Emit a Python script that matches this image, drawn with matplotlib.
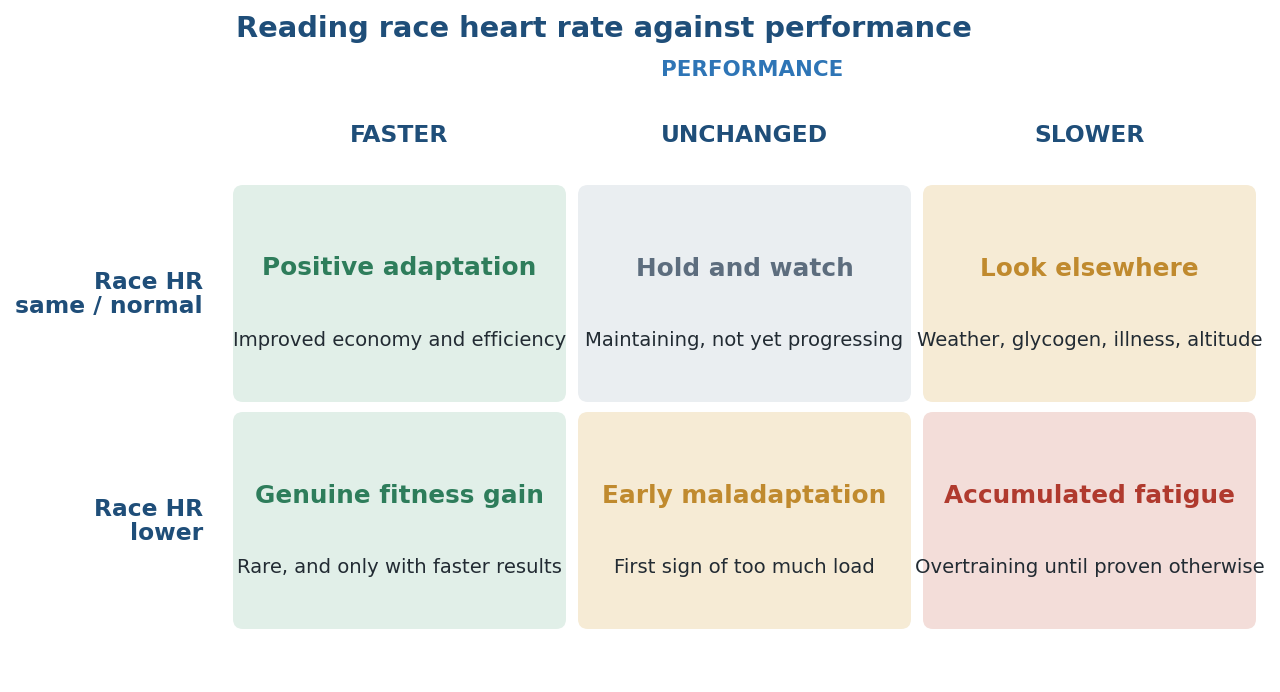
import matplotlib
matplotlib.use("Agg")
import matplotlib.pyplot as plt
from matplotlib.patches import FancyBboxPatch

plt.rcParams['font.family'] = ['DejaVu Sans']

title = "Reading race heart rate against performance"
axis_label = "PERFORMANCE"
columns = ["FASTER", "UNCHANGED", "SLOWER"]
rows = ["Race HR\nsame / normal", "Race HR\nlower"]
cell_titles = [
    ["Positive adaptation", "Hold and watch", "Look elsewhere"],
    ["Genuine fitness gain", "Early maladaptation", "Accumulated fatigue"],
]
cell_subs = [
    ["Improved economy and efficiency", "Maintaining, not yet progressing",
     "Weather, glycogen, illness, altitude"],
    ["Rare, and only with faster results", "First sign of too much load",
     "Overtraining until proven otherwise"],
]
cell_kind = [
    ["good", "neutral", "warn"],
    ["good", "warn", "bad"],
]

bg = {"good": "#e1efe8", "neutral": "#eaeef1", "warn": "#f6ebd5", "bad": "#f3ddd9"}
fg = {"good": "#2e7d5b", "neutral": "#5d6d7e", "warn": "#c08a2e", "bad": "#b03a2e"}
navy = "#1f4e79"
blue = "#2e75b6"
body = "#222b33"

W, H = 1280, 692
fig = plt.figure(figsize=(W / 100, H / 100), dpi=100)
# grid area in pixels
left_px, right_px, top_px, bot_px = 227, 1262, 180, 634
ax = fig.add_axes([left_px / W, 1 - bot_px / H, (right_px - left_px) / W, (bot_px - top_px) / H])
ncol, nrow = len(columns), len(rows)
ax.set_xlim(0, ncol)
ax.set_ylim(nrow, 0)
ax.axis("off")

px_x = (right_px - left_px) / ncol  # pixels per x unit
px_y = (bot_px - top_px) / nrow     # pixels per y unit
gx = 6 / px_x
gy = 5 / px_y
rad = 10 / px_x

for r in range(nrow):
    for c in range(ncol):
        k = cell_kind[r][c]
        p = FancyBboxPatch((c + gx, r + gy), 1 - 2 * gx, 1 - 2 * gy,
                           boxstyle=f"round,pad=0,rounding_size={rad}",
                           mutation_aspect=px_x / px_y,
                           facecolor=bg[k], edgecolor="none", clip_on=False)
        ax.add_patch(p)
        ax.text(c + 0.5, r + 0.5 - 25 / px_y, cell_titles[r][c], ha="center", va="center",
                fontsize=17.8, fontweight="bold", color=fg[k])
        ax.text(c + 0.5, r + 0.5 + 47 / px_y, cell_subs[r][c], ha="center", va="center",
                fontsize=14.1, color=body)

for c, name in enumerate(columns):
    ax.text(c + 0.5, -45 / px_y, name, ha="center", va="center",
            fontsize=16.8, fontweight="bold", color=navy, clip_on=False)

for r, name in enumerate(rows):
    ax.text(-24 / px_x, r + 0.5 + 1 / px_y, name, ha="right", va="center",
            fontsize=16.8, fontweight="bold", color=navy, linespacing=1.05, clip_on=False)

fig.text(752 / W, 1 - 70 / H, axis_label, ha="center", va="center",
         fontsize=15.4, fontweight="bold", color=blue)
fig.text(236 / W, 1 - 29 / H, title, ha="left", va="center",
         fontsize=20.8, fontweight="bold", color=navy)

fig.savefig("out.png", dpi=100, facecolor="white")
